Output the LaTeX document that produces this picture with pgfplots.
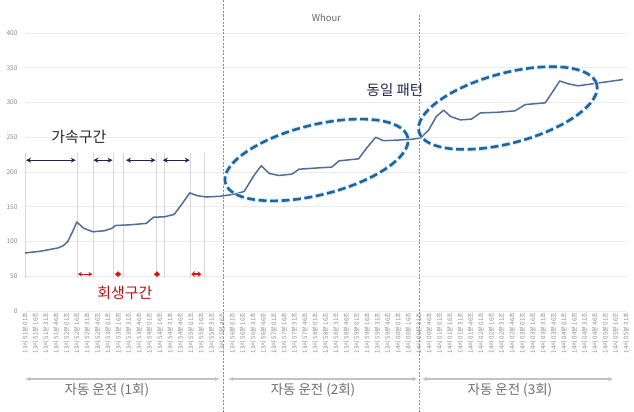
\documentclass[border=0pt]{standalone}
\usepackage{pgfplots}
\pgfplotsset{compat=1.18}
\usepackage{pgfplotstable}
\usepackage{fontspec}
\setmainfont{Noto Sans CJK KR}
\usetikzlibrary{arrows.meta}
\definecolor{linec}{RGB}{79,109,155}
\definecolor{navy}{RGB}{30,38,78}
\definecolor{redc}{RGB}{214,20,20}
\definecolor{ellc}{RGB}{28,102,160}
\definecolor{glow}{RGB}{210,231,248}
\definecolor{tickc}{RGB}{140,140,140}
\definecolor{gridc}{RGB}{236,236,236}
\definecolor{vlinec}{RGB}{215,215,222}
\definecolor{botc}{RGB}{195,195,195}
\definecolor{bottext}{RGB}{110,110,110}

\pgfplotstableread{
x y
0 83.5
1.5 86
3.17 90.7
3.7 94
4.13 100
4.62 115
5.0 128
5.67 119
6.54 114
7.69 115.5
8.37 119
8.75 123
10.1 124
11.7 126
12.4 135
13.46 135.5
14.4 139
15.2 155
15.9 170
16.6 166
17.5 164
18.75 165
20.2 168
21.15 172
22.1 195
22.8 209
23.56 198
24.5 195
25.77 197
26.44 204
28.37 206
29.6 207
30.3 216
32.2 219
33.0 235
33.85 250
34.6 245
36.06 246
37.3 247
38.17 249
38.94 260
39.7 280
40.4 289
41.06 280
42.0 275
43.08 276
43.94 285
45.67 286
47.3 288
48.27 297
50.2 299.5
50.77 312
51.6 331
52.4 327
53.37 324
55.3 328
57.7 333
}\data

\tikzset{
  vl/.style={vlinec, line width=0.8bp},
  acc/.style={navy, line width=1.2bp, {Stealth[length=5bp,width=5bp]}-{Stealth[length=5bp,width=5bp]}},
  reg/.style={redc, line width=1.4bp, {Stealth[length=3.5bp,width=6bp]}-{Stealth[length=3.5bp,width=6bp]}},
  bot/.style={botc, line width=1.2bp, {Latex[length=5bp,width=4.5bp]}-{Latex[length=5bp,width=4.5bp]}},
  bott/.style={font=\fontsize{13.5}{16}\selectfont, text=bottext, yshift=-79bp},
  sep/.style={tickc, dash pattern=on 2bp off 1.5bp, line width=0.6bp},
  ellg/.style={glow, line width=4.6bp, dash pattern=on 8bp off 3.5bp},
  elld/.style={ellc, line width=2.6bp, dash pattern=on 8bp off 3.5bp},
}

\begin{document}
\begin{tikzpicture}
\begin{axis}[
  scale only axis,
  width=601bp, height=278bp,
  xmin=0, xmax=58, ymin=0, ymax=400,
  ytick={0,50,...,400},
  xtick={0,...,58},
  xticklabels={
  13시 51분 01초,13시 51분 16초,13시 51분 31초,13시 51분 46초,
  13시 52분 01초,13시 52분 16초,13시 52분 31초,13시 52분 46초,
  13시 53분 01초,13시 53분 16초,13시 53분 31초,13시 53분 46초,
  13시 54분 01초,13시 54분 16초,13시 54분 31초,13시 54분 46초,
  13시 55분 01초,13시 55분 16초,13시 55분 31초,13시 55분 46초,
  13시 56분 01초,13시 56분 16초,13시 56분 31초,13시 56분 46초,
  13시 57분 01초,13시 57분 16초,13시 57분 31초,13시 57분 46초,
  13시 58분 01초,13시 58분 16초,13시 58분 31초,13시 58분 46초,
  13시 59분 01초,13시 59분 16초,13시 59분 31초,13시 59분 46초,
  14시 00분 01초,14시 00분 16초,14시 00분 31초,14시 00분 46초,
  14시 01분 01초,14시 01분 16초,14시 01분 31초,14시 01분 46초,
  14시 02분 01초,14시 02분 16초,14시 02분 31초,14시 02분 46초,
  14시 03분 01초,14시 03분 16초,14시 03분 31초,14시 03분 46초,
  14시 04분 01초,14시 04분 16초,14시 04분 31초,14시 04분 46초,
  14시 05분 01초,14시 05분 16초,14시 05분 31초},
  xticklabel style={rotate=90, anchor=east, font=\fontsize{6.2}{7}\selectfont, text=tickc, inner sep=1.5bp},
  yticklabel style={font=\fontsize{6.6}{8}\selectfont, text=tickc, xshift=-4bp},
  /pgf/number format/assume math mode=true,
  ymajorgrids,
  grid style={draw=gridc, line width=0.8bp},
  axis line style={draw=none},
  major tick length=0pt,
  clip=false,
]
\path (rel axis cs:0,0) ++(-25bp,-101bp) coordinate (BL);
\path (rel axis cs:1,1) ++(8bp,33bp) coordinate (TR);

% light vertical guide lines (run 1)
\draw[vl] (axis cs:0,47.5) -- (axis cs:0,227);
\draw[vl] (axis cs:5.02,47.5) -- (axis cs:5.02,227);
\draw[vl] (axis cs:6.56,47.5) -- (axis cs:6.56,227);
\draw[vl] (axis cs:8.49,47.5) -- (axis cs:8.49,227);
\draw[vl] (axis cs:9.46,47.5) -- (axis cs:9.46,227);
\draw[vl] (axis cs:12.64,47.5) -- (axis cs:12.64,227);
\draw[vl] (axis cs:13.42,47.5) -- (axis cs:13.42,227);
\draw[vl] (axis cs:15.93,47.5) -- (axis cs:15.93,227);
\draw[vl] (axis cs:17.28,47.5) -- (axis cs:17.28,227);

% dashed separators
\draw[sep] (axis cs:19.1,0) ++(0,-101bp) -- ++(0,412bp);
\draw[sep] (axis cs:38.1,0) ++(0,-101bp) -- ++(0,397bp);

% data
\addplot[linec, line width=1.5bp, line join=round, no marks] table[x=x,y=y] {\data};

% acceleration arrows
\draw[acc] (axis cs:0.1,217) -- (axis cs:4.9,217);
\draw[acc] (axis cs:6.6,217) -- (axis cs:8.45,217);
\draw[acc] (axis cs:9.75,217) -- (axis cs:12.6,217);
\draw[acc] (axis cs:13.3,217) -- (axis cs:15.9,217);
% regeneration arrows
\draw[redc, line width=1.2bp, {Stealth[length=4bp,width=4.5bp]}-{Stealth[length=4bp,width=4.5bp]}] (axis cs:5.1,53) -- (axis cs:6.5,53);
\draw[reg] (axis cs:8.68,53) -- (axis cs:9.28,53);
\draw[reg] (axis cs:12.44,53) -- (axis cs:13.04,53);
\draw[reg] (axis cs:16.05,53) -- (axis cs:17.0,53);

% texts
\node[font=\fontsize{15}{17}\selectfont, text=black!85] at (axis cs:5.2,250) {가속구간};
\node[font=\fontsize{15}{17}\selectfont, text=redc!85!black] at (axis cs:9.65,26) {회생구간};
\node[font=\fontsize{14.5}{17}\selectfont, text=navy] at (axis cs:35.7,318) {동일 패턴};
\node[font=\fontsize{9.5}{11}\selectfont, text=black!60, yshift=15bp] at (axis cs:29.1,400) {Whour};

% ellipses
\draw[ellg, rotate around={14:(axis cs:28.13,217.3)}] (axis cs:28.13,217.3) ellipse [x radius=94bp, y radius=35bp];
\draw[elld, rotate around={14:(axis cs:28.13,217.3)}] (axis cs:28.13,217.3) ellipse [x radius=94bp, y radius=35bp];
\draw[ellg, rotate around={15:(axis cs:46.6,292)}] (axis cs:46.6,292) ellipse [x radius=92bp, y radius=35bp];
\draw[elld, rotate around={15:(axis cs:46.6,292)}] (axis cs:46.6,292) ellipse [x radius=92bp, y radius=35bp];

% bottom run arrows and labels
\draw[bot] (axis cs:0,0) ++(0,-68bp) -- ++(194.8bp,0);
\draw[bot] (axis cs:19.6,0) ++(0,-68bp) -- ++(189.6bp,0);
\draw[bot] (axis cs:38.3,0) ++(0,-68bp) -- ++(191.6bp,0);
\node[bott] at (axis cs:7.9,0) {자동 운전 (1회)};
\node[bott] at (axis cs:27.8,0) {자동 운전 (2회)};
\node[bott] at (axis cs:46.8,0) {자동 운전 (3회)};
\end{axis}
\pgfresetboundingbox
\useasboundingbox (BL) rectangle (TR);
\end{tikzpicture}
\end{document}
